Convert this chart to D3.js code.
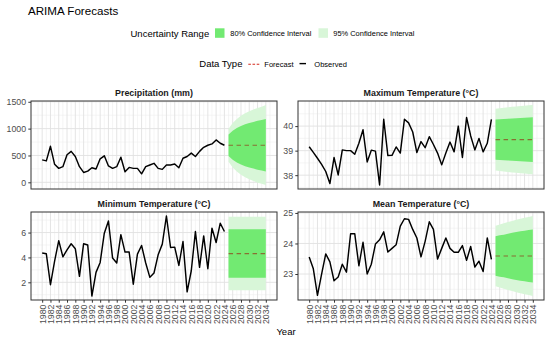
<!DOCTYPE html>
<html><head><meta charset="utf-8">
<script src="https://cdn.jsdelivr.net/npm/d3@7/dist/d3.min.js"></script>
<style>body{margin:0;background:#fff}svg{display:block;font-family:"Liberation Sans",Arial,sans-serif}</style>
</head><body><svg id="c" width="550" height="342"></svg>
<script>
// ---------- data ----------
const obsYears = d3.range(1980, 2025);
const fcYears = d3.range(2025, 2035);
const xTickYears = d3.range(1980, 2035, 2);
const panelTitles = ["Precipitation (mm)", "Maximum Temperature (°C)", "Minimum Temperature (°C)", "Mean Temperature (°C)"];

const precipObs = [418,399,671,335,260,291,513,576,481,291,184,209,272,247,437,494,304,260,291,468,196,278,260,260,158,291,323,354,260,241,323,323,342,272,449,481,544,481,576,652,690,715,790,728,690];
const precipMean = [690,690,690,690,690,690,690,690,690,690];
const precipLo80 = [488,420,370,330,300,275,255,235,220,203];
const precipHi80 = [892,960,1010,1050,1080,1105,1125,1145,1160,1177];
const precipLo95 = [381,277,200,139,93,55,24,-6,-29,-50];
const precipHi95 = [999,1103,1180,1241,1287,1325,1356,1386,1409,1440];
const precipTicks = [0,500,1000,1500];

const tmaxObs = [39.16,38.93,38.69,38.44,38.15,37.66,38.72,38.01,39.03,39.0,39.0,38.85,39.3,39.85,38.54,39.02,38.98,37.6,40.28,38.8,38.81,39.15,38.9,40.28,40.13,39.76,38.92,39.37,39.12,39.57,39.25,38.9,38.42,38.9,39.35,38.95,40.0,38.72,40.35,39.6,39.03,39.5,38.95,39.3,40.27];
const tmaxMean = [39.45,39.45,39.45,39.45,39.45,39.45,39.45,39.45,39.45,39.45];
const tmaxLo80 = [38.63,38.62,38.61,38.60,38.59,38.58,38.57,38.56,38.55,38.54];
const tmaxHi80 = [40.27,40.28,40.29,40.30,40.31,40.32,40.33,40.34,40.35,40.36];
const tmaxLo95 = [38.19,38.17,38.15,38.13,38.11,38.10,38.08,38.07,38.05,38.04];
const tmaxHi95 = [40.71,40.73,40.75,40.77,40.79,40.80,40.82,40.83,40.85,40.86];
const tmaxTicks = [38,39,40];

const tminObs = [4.35,4.29,1.81,3.7,5.35,4.05,4.6,5.1,4.7,2.48,5.1,5.0,0.9,2.8,3.6,5.95,6.93,3.95,3.55,5.83,4.43,4.43,1.85,4.27,4.96,3.55,2.4,2.75,4.21,5.07,7.33,4.8,4.83,3.36,5.28,1.23,2.93,6.08,3.2,5.73,3.09,6.35,5.2,6.75,6.08];
const tminMean = [4.3,4.3,4.3,4.3,4.3,4.3,4.3,4.3,4.3,4.3];
const tminLo80 = [2.36,2.36,2.36,2.36,2.36,2.36,2.36,2.36,2.36,2.36];
const tminHi80 = [6.26,6.26,6.26,6.26,6.26,6.26,6.26,6.26,6.26,6.26];
const tminLo95 = [1.36,1.36,1.36,1.36,1.36,1.36,1.36,1.36,1.36,1.36];
const tminHi95 = [7.26,7.26,7.26,7.26,7.26,7.26,7.26,7.26,7.26,7.26];
const tminTicks = [2,4,6];

const tmeanObs = [23.56,23.17,22.3,23.0,23.66,23.4,22.78,22.9,23.32,23.06,24.32,24.32,23.27,24.04,23.0,23.32,23.98,24.12,24.38,23.72,23.84,23.96,24.57,24.81,24.79,24.46,24.18,23.56,24.07,24.71,24.46,23.49,23.84,24.18,23.84,23.71,23.71,23.93,23.45,23.9,23.23,23.42,23.08,24.18,23.48];
const tmeanMean = [23.59,23.59,23.59,23.59,23.59,23.59,23.59,23.59,23.59,23.59];
const tmeanLo80 = [22.94,22.91,22.89,22.86,22.83,22.80,22.78,22.76,22.74,22.72];
const tmeanHi80 = [24.24,24.27,24.29,24.32,24.35,24.38,24.40,24.42,24.44,24.46];
const tmeanLo95 = [22.60,22.56,22.52,22.48,22.44,22.40,22.37,22.34,22.31,22.28];
const tmeanHi95 = [24.58,24.62,24.66,24.70,24.74,24.78,24.81,24.84,24.87,24.90];
const tmeanTicks = [23,24,25];

const legendFillLabels = ["80% Confidence Interval", "95% Confidence Interval"];
const legendLineLabels = ["Forecast", "Observed"];

// ---------- layout / style ----------
const C = {
  fill80: "#72ea72", fill95: "#d8f6d8", fc: "#d42a1e", fcPlot: "#9a1a0a", obs: "#000",
  border: "#333", gridMaj: "#e1e1e1", gridMin: "#efefef", axisText: "#4d4d4d"
};
const cols = [[31, 277], [298, 544]];
const rows = [[101, 189], [212, 300]];

const panels = [
  {title: panelTitles[0], obs: precipObs, mean: precipMean, lo80: precipLo80, hi80: precipHi80, lo95: precipLo95, hi95: precipHi95, ticks: precipTicks},
  {title: panelTitles[1], obs: tmaxObs, mean: tmaxMean, lo80: tmaxLo80, hi80: tmaxHi80, lo95: tmaxLo95, hi95: tmaxHi95, ticks: tmaxTicks},
  {title: panelTitles[2], obs: tminObs, mean: tminMean, lo80: tminLo80, hi80: tminHi80, lo95: tminLo95, hi95: tminHi95, ticks: tminTicks},
  {title: panelTitles[3], obs: tmeanObs, mean: tmeanMean, lo80: tmeanLo80, hi80: tmeanHi80, lo95: tmeanLo95, hi95: tmeanHi95, ticks: tmeanTicks}
];

const svg = d3.select("#c");

// title
svg.append("text").attr("x", 28).attr("y", 14.8).attr("font-size", 11.6).attr("fill", "#000").text("ARIMA Forecasts");

// legend row 1
const lg1 = svg.append("g");
lg1.append("text").attr("x", 130.5).attr("y", 36.6).attr("font-size", 9.5).text("Uncertainty Range");
const fillKeys = [{c: C.fill80, x: 215, tx: 230.3}, {c: C.fill95, x: 318.5, tx: 333.3}];
fillKeys.forEach((k, i) => {
  lg1.append("rect").attr("x", k.x).attr("y", 28.3).attr("width", 9.5).attr("height", 9.5).attr("fill", k.c);
  lg1.append("text").attr("x", k.tx).attr("y", 36).attr("font-size", 7.45).text(legendFillLabels[i]);
});
// legend row 2
const lg2 = svg.append("g");
lg2.append("text").attr("x", 199.3).attr("y", 67.4).attr("font-size", 9.5).text("Data Type");
lg2.append("line").attr("x1", 248.3).attr("x2", 259.3).attr("y1", 64.3).attr("y2", 64.3)
  .attr("stroke", C.fc).attr("stroke-width", 1.1).attr("stroke-dasharray", "2.6,1.6");
lg2.append("text").attr("x", 264.3).attr("y", 66.8).attr("font-size", 7.5).text(legendLineLabels[0]);
lg2.append("line").attr("x1", 299.5).attr("x2", 306).attr("y1", 63.6).attr("y2", 63.6)
  .attr("stroke", C.obs).attr("stroke-width", 1.4);
lg2.append("text").attr("x", 314.3).attr("y", 66.8).attr("font-size", 7.5).text(legendLineLabels[1]);

// panels
panels.forEach((p, i) => {
  const [x0, x1] = cols[i % 2];
  const [y0, y1] = rows[Math.floor(i / 2)];
  const bottomRow = i >= 2;
  const x = d3.scaleLinear().domain([1980 - 2.7, 2034 + 2.7]).range([x0, x1]);
  const allV = p.obs.concat(p.lo95, p.hi95, p.lo80, p.hi80);
  const [mn, mx] = d3.extent(allV);
  const pad = (mx - mn) * 0.05;
  const y = d3.scaleLinear().domain([mn - pad, mx + pad]).range([y1, y0]);
  const g = svg.append("g");
  const clipId = "clip" + i;
  g.append("clipPath").attr("id", clipId).append("rect").attr("x", x0).attr("y", y0).attr("width", x1 - x0).attr("height", y1 - y0);

  // grid
  const step = p.ticks[1] - p.ticks[0];
  const minorY = d3.range(p.ticks[0] - step / 2, p.ticks[p.ticks.length - 1] + step, step).filter(v => v > y.domain()[0] && v < y.domain()[1]);
  const minorX = d3.range(1977, 2038, 2).filter(v => v > x.domain()[0] && v < x.domain()[1]);
  const grid = g.append("g");
  grid.selectAll(".mny").data(minorY).join("line").attr("x1", x0).attr("x2", x1)
    .attr("y1", d => y(d)).attr("y2", d => y(d)).attr("stroke", C.gridMin).attr("stroke-width", 0.6);
  grid.selectAll(".mnx").data(minorX).join("line").attr("y1", y0).attr("y2", y1)
    .attr("x1", d => x(d)).attr("x2", d => x(d)).attr("stroke", C.gridMin).attr("stroke-width", 0.6);
  grid.selectAll(".mjy").data(p.ticks).join("line").attr("x1", x0).attr("x2", x1)
    .attr("y1", d => y(d)).attr("y2", d => y(d)).attr("stroke", C.gridMaj).attr("stroke-width", 0.9);
  grid.selectAll(".mjx").data(xTickYears).join("line").attr("y1", y0).attr("y2", y1)
    .attr("x1", d => x(d)).attr("x2", d => x(d)).attr("stroke", C.gridMaj).attr("stroke-width", 0.9);

  const body = g.append("g").attr("clip-path", `url(#${clipId})`);
  const fc = fcYears.map((yr, k) => ({yr, m: p.mean[k], lo80: p.lo80[k], hi80: p.hi80[k], lo95: p.lo95[k], hi95: p.hi95[k]}));
  body.append("path").datum(fc).attr("fill", C.fill95)
    .attr("d", d3.area().x(d => x(d.yr)).y0(d => y(d.lo95)).y1(d => y(d.hi95)));
  body.append("path").datum(fc).attr("fill", C.fill80)
    .attr("d", d3.area().x(d => x(d.yr)).y0(d => y(d.lo80)).y1(d => y(d.hi80)));
  body.append("path").datum(fc).attr("fill", "none").attr("stroke", C.fcPlot).attr("stroke-opacity", 0.6)
    .attr("stroke-width", 1.2).attr("stroke-dasharray", "4.5,3.5")
    .attr("d", d3.line().x(d => x(d.yr)).y(d => y(d.m)));
  body.append("path").datum(obsYears.map((yr, k) => [yr, p.obs[k]])).attr("fill", "none")
    .attr("stroke", C.obs).attr("stroke-width", 1.45).attr("stroke-linejoin", "round")
    .attr("d", d3.line().x(d => x(d[0])).y(d => y(d[1])));

  // border
  g.append("rect").attr("x", x0).attr("y", y0).attr("width", x1 - x0).attr("height", y1 - y0)
    .attr("fill", "none").attr("stroke", C.border).attr("stroke-width", 1);

  // strip title
  g.append("text").attr("x", (x0 + x1) / 2).attr("y", y0 - 4.6).attr("text-anchor", "middle")
    .attr("font-size", 8.9).attr("font-weight", "bold").attr("fill", "#1a1a1a").text(p.title);

  // y axis
  const ya = d3.axisLeft(y).tickValues(p.ticks).tickSize(2.7).tickPadding(2.2).tickFormat(d3.format("d"));
  const yg = g.append("g").attr("transform", `translate(${x0},0)`).call(ya);
  yg.select(".domain").remove();
  yg.selectAll("line").attr("stroke", C.border);
  yg.selectAll("text").attr("fill", C.axisText).attr("font-size", 8.8).attr("font-family", null);

  // x axis (bottom row only)
  if (bottomRow) {
    const xa = d3.axisBottom(x).tickValues(xTickYears).tickSize(2.7).tickFormat(d3.format("d"));
    const xg = g.append("g").attr("transform", `translate(0,${y1})`).call(xa);
    xg.select(".domain").remove();
    xg.selectAll("line").attr("stroke", C.border);
    xg.selectAll("text").attr("fill", C.axisText).attr("font-size", 8.8).attr("font-family", null)
      .attr("transform", "rotate(-90)").attr("text-anchor", "end").attr("dy", "0.33em")
      .attr("x", -4.5).attr("y", 0);
  }
});

// x title
svg.append("text").attr("x", 286).attr("y", 335).attr("text-anchor", "middle").attr("font-size", 9.5).attr("fill", "#000").text("Year");
</script></body></html>
